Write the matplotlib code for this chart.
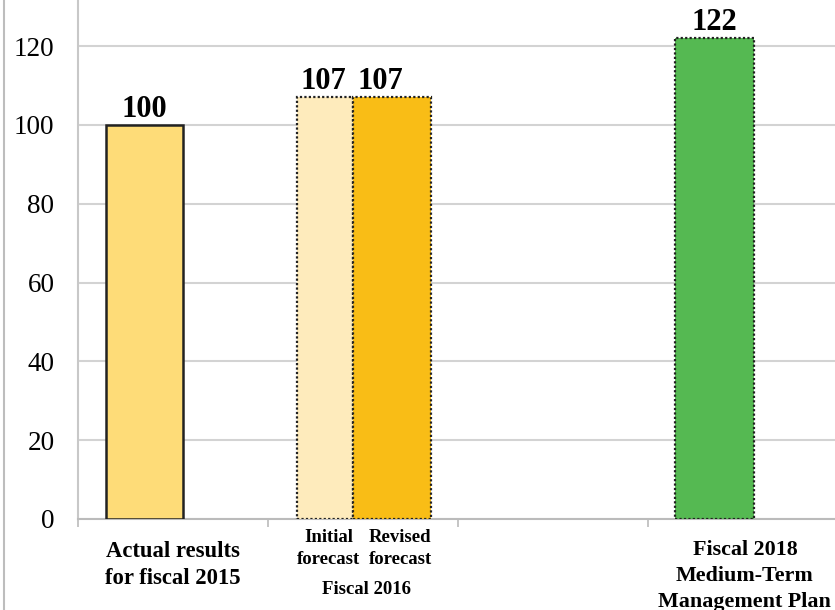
import matplotlib.pyplot as plt
from matplotlib.lines import Line2D

# values (index, fiscal 2015 = 100)
labels_2016 = ['Initial\nforecast', 'Revised\nforecast']
actual_2015 = 100
forecast_2016 = [107, 107]
plan_2018 = 122
yticks = [0, 20, 40, 60, 80, 100, 120]

plt.rcParams['font.family'] = ['Liberation Serif', 'DejaVu Serif']

fig = plt.figure(figsize=(8.35, 6.10), dpi=100)
ax = fig.add_axes([78 / 835, 1 - 519 / 610, 760 / 835, 519 / 610])

# bar layout in category units (each category is one unit wide)
ax.bar(0.35, actual_2015, width=0.405, color='#FEDC78',
       edgecolor='#222222', linewidth=1.8, zorder=3)
ax.bar([1.30, 1.652], forecast_2016, width=[0.294, 0.411],
       color=['#FEEBBC', '#F9BD16'], edgecolor='#222222',
       linewidth=1.6, linestyle=(0, (1, 1)), zorder=3)
ax.bar(3.35, plan_2018, width=0.416, color='#55B952',
       edgecolor='#222222', linewidth=1.6, linestyle=(0, (1, 1)), zorder=3)

# value labels
for x, v in [(0.35, actual_2015), (1.289, forecast_2016[0]),
             (1.589, forecast_2016[1]), (3.35, plan_2018)]:
    ax.text(x, v + 0.3, str(v), ha='center', va='bottom',
            fontsize=22, fontweight='bold')

ax.set_xlim(0, 4)
ax.set_ylim(0, 131.7)
ax.set_yticks(yticks)
ax.set_yticklabels([str(t) for t in yticks], fontsize=19.5)
ax.set_xticks([0, 1, 2, 3, 4])
ax.set_xticklabels([])
ax.tick_params(axis='x', length=6, color='#BBBBBB', width=1.2)
ax.tick_params(axis='y', length=0, pad=17)
ax.yaxis.grid(True, color='#D3D3D3', linewidth=1.5, zorder=0)
ax.set_axisbelow(True)

for side in ['top', 'right']:
    ax.spines[side].set_visible(False)
ax.spines['left'].set_color('#C8C8C8')
ax.spines['left'].set_linewidth(1.5)
ax.spines['bottom'].set_color('#BBBBBB')
ax.spines['bottom'].set_linewidth(1.5)

# category labels under the axis
def fx(x):
    return (78 + 190 * x) / 835

def fy(py):
    return 1 - py / 610

fig.text(fx(0.5), fy(565), 'Actual results\nfor fiscal 2015', ha='center',
         va='center', fontsize=16.3, fontweight='bold', linespacing=1.38)
fig.text(fx(1.321), fy(548.5), labels_2016[0], ha='center', va='center',
         fontsize=13.5, fontweight='bold', linespacing=1.35)
fig.text(fx(1.695), fy(548.5), labels_2016[1], ha='center', va='center',
         fontsize=13.5, fontweight='bold', linespacing=1.35)
fig.text(fx(1.516), fy(589), 'Fiscal 2016', ha='center', va='center',
         fontsize=13.5, fontweight='bold')
fig.text(fx(3.51), fy(576), 'Fiscal 2018\nMedium-Term\nManagement Plan',
         ha='center', va='center', fontsize=15.8, fontweight='bold',
         linespacing=1.37)

# thin frame line at the left edge
fig.add_artist(Line2D([4 / 835, 4 / 835], [0, 1], color='#BDBDBD',
                      linewidth=1.5, transform=fig.transFigure))

fig.savefig('out.png', dpi=100)
